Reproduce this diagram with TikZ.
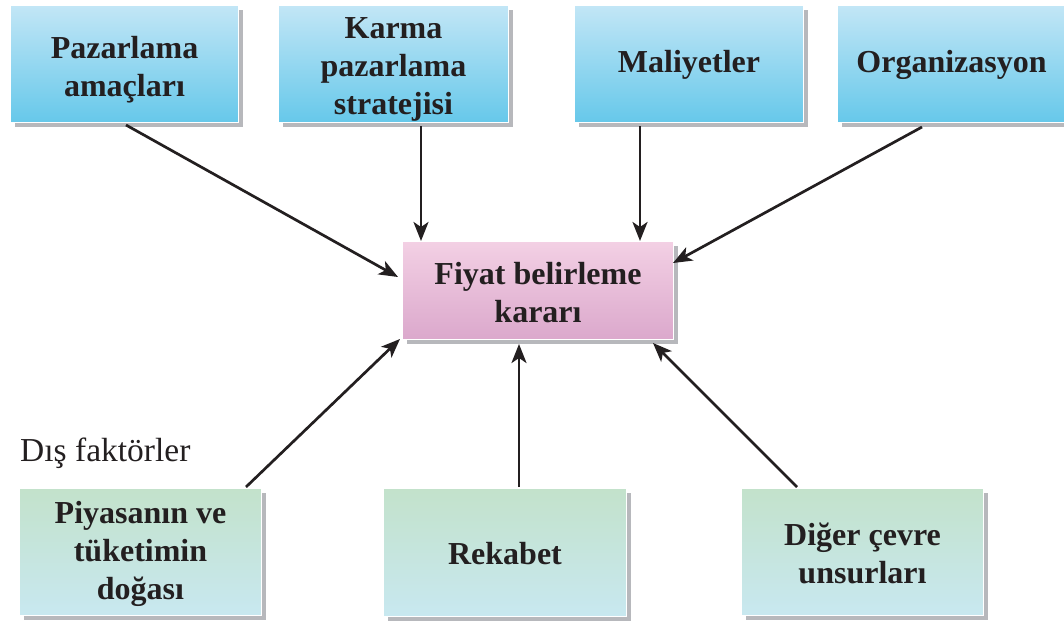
\documentclass[tikz,border=0pt]{standalone}
\usepackage{fontspec}
\setmainfont{Liberation Serif}
\usetikzlibrary{arrows.meta,shadows}
\definecolor{blueTop}{HTML}{C2E6F6}
\definecolor{blueBot}{HTML}{66C8EA}
\definecolor{pinkTop}{HTML}{F3D0E4}
\definecolor{pinkBot}{HTML}{DBA8CC}
\definecolor{greenTop}{HTML}{C3E2CB}
\definecolor{greenBot}{HTML}{C8E8F0}
\definecolor{shadowGray}{HTML}{B7B8BC}
\definecolor{inkDark}{HTML}{231F20}
\tikzset{
  box/.style={rectangle, anchor=north west, draw=white, line width=1pt,
    inner sep=0pt,
    drop shadow={shadow xshift=4pt, shadow yshift=-4pt, opacity=1, fill=shadowGray}},
  bluebox/.style={box, top color=blueTop, bottom color=blueBot},
  pinkbox/.style={box, top color=pinkTop, bottom color=pinkBot},
  greenbox/.style={box, top color=greenTop, bottom color=greenBot},
  lbl/.style={align=center, font=\fontsize{32}{38}\selectfont\bfseries,
    text=inkDark, inner sep=0pt},
  arr/.style={draw=inkDark, line width=2.7pt, -{Stealth[length=19pt,width=15pt,inset=5pt]}}
}
\begin{document}
\begin{tikzpicture}[x=1pt,y=-1pt]
\useasboundingbox (0,0) rectangle (1064,621);
% internal factors
\node[bluebox, minimum width=228pt, minimum height=117pt] (p1) at (10,5) {};
\node[bluebox, minimum width=230pt, minimum height=117pt] (p2) at (278,5) {};
\node[bluebox, minimum width=229pt, minimum height=117pt] (p3) at (574,5) {};
\node[bluebox, minimum width=228pt, minimum height=117pt] (p4) at (837,5) {};
\node[lbl] (p1t) at ([yshift=-6pt]p1.center) {Pazarlama\\amaçları};
\node[lbl] (p2t) at ([yshift=-5pt]p2.center) {Karma\\pazarlama\\stratejisi};
\node[lbl] (p3t) at ([yshift=-1pt]p3.center) {Maliyetler};
\node[lbl] (p4t) at ([yshift=-1pt]p4.center) {Organizasyon};
% decision
\node[pinkbox, minimum width=271pt, minimum height=98pt] (f) at (402,241) {};
\node[lbl] (ft) at ([yshift=-2pt]f.center) {Fiyat belirleme\\kararı};
% external factors
\node[anchor=base west, font=\fontsize{33.5}{38}\selectfont, text=inkDark, inner sep=0pt] (dis) at (20,461) {Dış faktörler};
\node[greenbox, minimum width=242pt, minimum height=127pt] (e1) at (19,488) {};
\node[greenbox, minimum width=243pt, minimum height=128pt] (e2) at (383,488) {};
\node[greenbox, minimum width=242pt, minimum height=127pt] (e3) at (741,488) {};
\node[lbl] (e1t) at ([yshift=-2pt]e1.center) {Piyasanın ve\\tüketimin\\doğası};
\node[lbl] (e2t) at ([yshift=-1pt]e2.center) {Rekabet};
\node[lbl] (e3t) at ([yshift=-1pt]e3.center) {Diğer çevre\\unsurları};
% connectors
\draw[arr] ([xshift=116pt,yshift=-2pt]p1.south west) -- ([xshift=-4pt,yshift=-36pt]f.north west);
\draw[arr] ([xshift=143pt,yshift=-3pt]p2.south west) -- ([xshift=19pt]f.north west);
\draw[arr] ([xshift=66pt,yshift=-3pt]p3.south west) -- ([xshift=238pt]f.north west);
\draw[arr] ([xshift=85pt,yshift=-4pt]p4.south west) -- ([xshift=-1pt,yshift=-22pt]f.north east);
\draw[arr] ([xshift=227pt,yshift=1pt]e1.north west) -- ([xshift=-2pt,yshift=1pt]f.south west);
\draw[arr] ([xshift=136pt,yshift=1pt]e2.north west) -- ([xshift=117pt,yshift=-4pt]f.south west);
\draw[arr] ([xshift=56pt,yshift=1pt]e3.north west) -- ([xshift=-21pt,yshift=-3pt]f.south east);
\end{tikzpicture}
\end{document}
